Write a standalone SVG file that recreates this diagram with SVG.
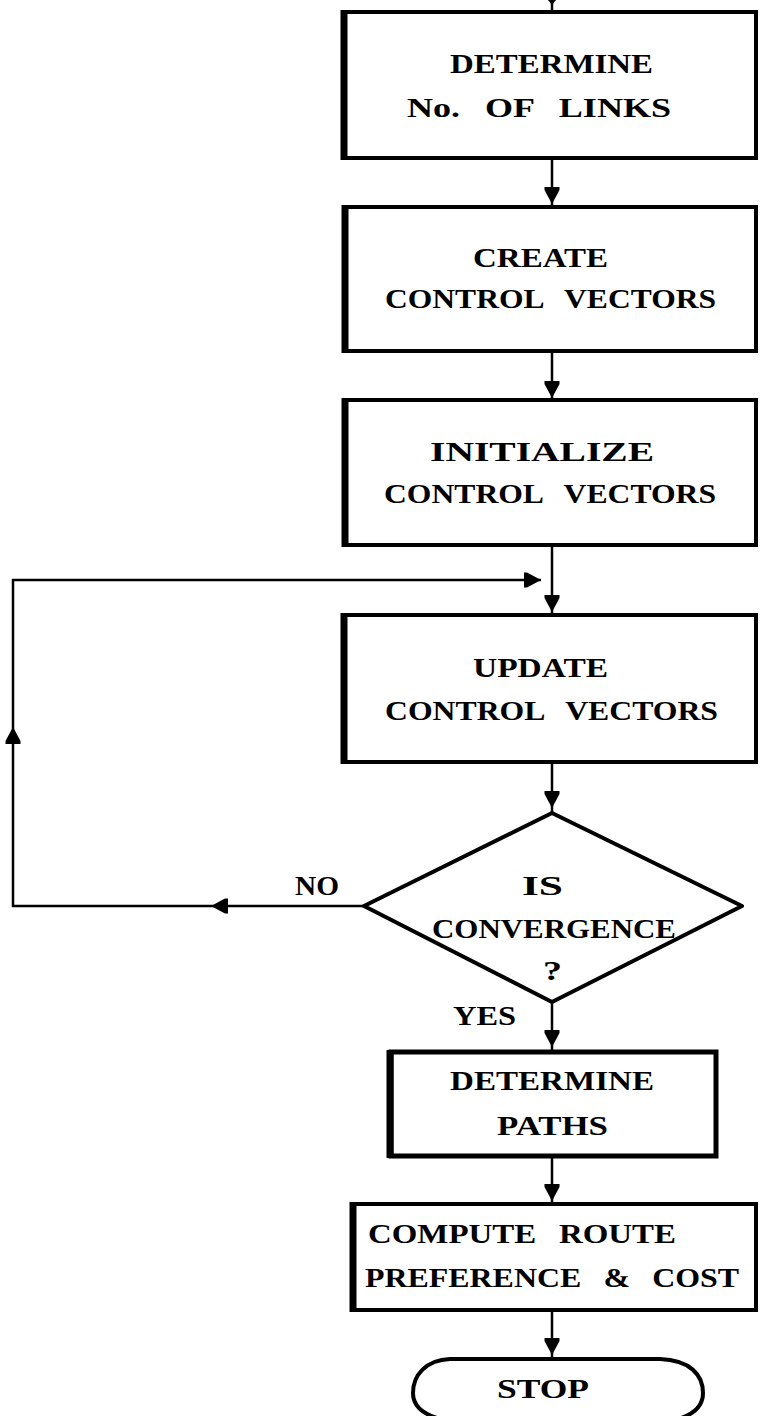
<svg xmlns="http://www.w3.org/2000/svg" xmlns:xlink="http://www.w3.org/1999/xlink" width="760" height="1416" viewBox="0 0 760 1416">
<style>
  .box { fill: #ffffff; stroke: #000000; stroke-width: 4; }
  .thick { fill: #ffffff; stroke: #000000; stroke-width: 5; }
  .edge { stroke: #000000; stroke-width: 7; }
  .conn { fill: none; stroke: #000000; stroke-width: 2.5; }
  .t { font-family: "Liberation Serif", "DejaVu Serif", serif; font-weight: bold; font-size: 27px; word-spacing: 12px; fill: #000000; }
</style>
<defs>
  <path id="ah" d="M-7.5,-17 H7.5 V-14 L0,0 L-7.5,-14 Z" fill="#000000"/>
</defs>
<rect width="760" height="1416" fill="#ffffff"/>

<g id="connectors">
  <line class="conn" x1="552" y1="0" x2="552" y2="11"/>
  <path d="M548,0 H556 L552,5 Z" fill="#000000"/>
  <line class="conn" x1="552" y1="158" x2="552" y2="205"/>
  <use xlink:href="#ah" transform="translate(552,204)"/>
  <line class="conn" x1="552" y1="352" x2="552" y2="400"/>
  <use xlink:href="#ah" transform="translate(552,398)"/>
  <line class="conn" x1="552" y1="547" x2="552" y2="615"/>
  <use xlink:href="#ah" transform="translate(552,612)"/>
  <line class="conn" x1="552" y1="763" x2="552" y2="813"/>
  <use xlink:href="#ah" transform="translate(552,808)"/>
  <line class="conn" x1="552" y1="1003" x2="552" y2="1050"/>
  <use xlink:href="#ah" transform="translate(552,1047)"/>
  <line class="conn" x1="552" y1="1157" x2="552" y2="1204"/>
  <use xlink:href="#ah" transform="translate(552,1201)"/>
  <line class="conn" x1="552" y1="1310" x2="552" y2="1358"/>
  <use xlink:href="#ah" transform="translate(552,1355)"/>
  <path class="conn" d="M363,906 H13 V580 H541"/>
  <use xlink:href="#ah" transform="translate(211,906) rotate(90)"/>
  <use xlink:href="#ah" transform="translate(13,727) rotate(180)"/>
  <use xlink:href="#ah" transform="translate(541,580) rotate(-90)"/>
  <text class="t" x="295" y="895" textLength="44" lengthAdjust="spacingAndGlyphs">NO</text>
  <text class="t" x="453" y="1025" textLength="63" lengthAdjust="spacingAndGlyphs">YES</text>
</g>

<g id="n1">
  <rect class="box" x="345" y="12" width="411" height="146"/>
  <line class="edge" x1="344" y1="10" x2="344" y2="160"/>
  <text class="t" x="450" y="73" textLength="203" lengthAdjust="spacingAndGlyphs">DETERMINE</text>
  <text class="t" x="407" y="117" textLength="264" lengthAdjust="spacingAndGlyphs">No. OF LINKS</text>
</g>

<g id="n2">
  <rect class="box" x="346" y="207" width="410" height="144"/>
  <line class="edge" x1="345" y1="205" x2="345" y2="353"/>
  <text class="t" x="473" y="267" textLength="135" lengthAdjust="spacingAndGlyphs">CREATE</text>
  <text class="t" x="385" y="308" textLength="331" lengthAdjust="spacingAndGlyphs">CONTROL VECTORS</text>
</g>

<g id="n3">
  <rect class="box" x="346" y="400" width="410" height="145"/>
  <line class="edge" x1="345" y1="398" x2="345" y2="547"/>
  <text class="t" x="430" y="461" textLength="224" lengthAdjust="spacingAndGlyphs">INITIALIZE</text>
  <text class="t" x="384" y="503" textLength="332" lengthAdjust="spacingAndGlyphs">CONTROL VECTORS</text>
</g>

<g id="n4">
  <rect class="box" x="345" y="615" width="411" height="147"/>
  <line class="edge" x1="344" y1="613" x2="344" y2="764"/>
  <text class="t" x="473" y="677" textLength="135" lengthAdjust="spacingAndGlyphs">UPDATE</text>
  <text class="t" x="385" y="720" textLength="333" lengthAdjust="spacingAndGlyphs">CONTROL VECTORS</text>
</g>

<g id="n5">
  <path class="box" stroke-linejoin="round" d="M552,813 L742,906 L552,1002 L364,906 Z"/>
  <text class="t" x="522" y="895" textLength="41" lengthAdjust="spacingAndGlyphs">IS</text>
  <text class="t" x="432" y="938" textLength="244" lengthAdjust="spacingAndGlyphs">CONVERGENCE</text>
  <text class="t" x="543" y="980" textLength="19" lengthAdjust="spacingAndGlyphs">?</text>
</g>

<g id="n6">
  <rect class="thick" x="391" y="1052" width="325" height="104"/>
  <line class="edge" x1="390" y1="1050" x2="390" y2="1158"/>
  <text class="t" x="450" y="1090" textLength="204" lengthAdjust="spacingAndGlyphs">DETERMINE</text>
  <text class="t" x="497" y="1135" textLength="111" lengthAdjust="spacingAndGlyphs">PATHS</text>
</g>

<g id="n7">
  <rect class="box" x="354" y="1204" width="402" height="106"/>
  <line class="edge" x1="353" y1="1202" x2="353" y2="1312"/>
  <text class="t" x="368" y="1243" textLength="308" lengthAdjust="spacingAndGlyphs">COMPUTE ROUTE</text>
  <text class="t" x="365" y="1287" textLength="374" lengthAdjust="spacingAndGlyphs">PREFERENCE &amp; COST</text>
</g>

<g id="n8">
  <path class="box" d="M450,1359 H660 C690,1360 703,1375 703,1393 C703,1408 690,1417 670,1421 H450 C426,1417 413,1408 413,1393 C413,1375 426,1360 450,1359 Z"/>
  <text class="t" x="497" y="1398" textLength="92" lengthAdjust="spacingAndGlyphs">STOP</text>
</g>
</svg>
